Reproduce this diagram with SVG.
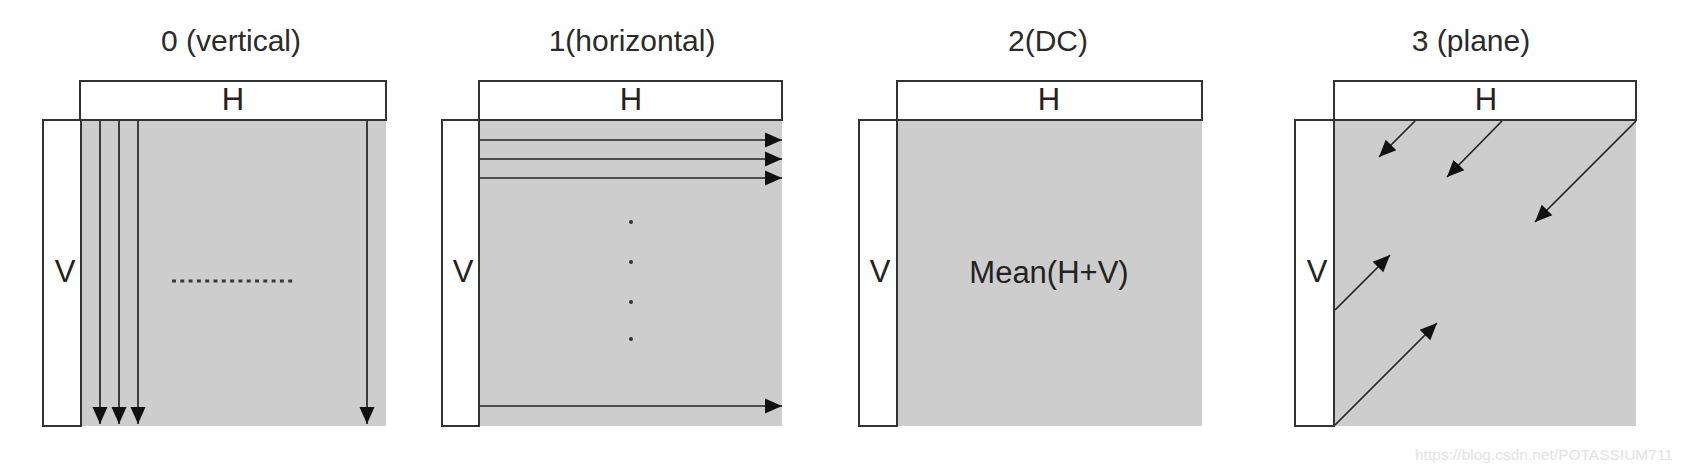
<svg xmlns="http://www.w3.org/2000/svg" width="1682" height="474" viewBox="0 0 1682 474">
<defs>
<style>
.title{font-family:"Liberation Sans",Arial,sans-serif;font-size:30px;fill:#2a2a2a;text-anchor:middle}
.lbl{font-family:"Liberation Sans",Arial,sans-serif;font-size:31px;fill:#222;text-anchor:middle}
.box{fill:#fff;stroke:#333;stroke-width:2}
.area{fill:#cdcdcd}
.arr{stroke:#222;stroke-width:1.7;fill:none;marker-end:url(#ah)}
.dot{fill:#333}
.wm{font-family:"Liberation Sans",Arial,sans-serif;font-size:15.5px;fill:#e2e2e2;text-anchor:end}
</style>
<marker id="ah" markerUnits="userSpaceOnUse" markerWidth="18" markerHeight="16" refX="17" refY="8" orient="auto" viewBox="0 0 18 16">
<path d="M0,0.5 L17,8 L0,15.5 z" fill="#111"/>
</marker>
</defs>
<rect width="1682" height="474" fill="#fff"/>

<g id="panel0">
<text class="title" x="231" y="51">0 (vertical)</text>
<rect class="area" x="81" y="120" width="305" height="306"/>
<rect class="box" x="80" y="81" width="306" height="39"/>
<rect class="box" x="43" y="120" width="38" height="306"/>
<text class="lbl" x="233" y="110">H</text>
<text class="lbl" x="65" y="282">V</text>
<line x1="172" y1="281" x2="296" y2="281" stroke="#3a3a3a" stroke-width="3" stroke-dasharray="4,4.3"/>
</g>

<g id="panel1">
<text class="title" x="632" y="51">1(horizontal)</text>
<rect class="area" x="479" y="120" width="303" height="306"/>
<rect class="box" x="479" y="81" width="303" height="39"/>
<rect class="box" x="442" y="120" width="37" height="306"/>
<text class="lbl" x="631" y="110">H</text>
<text class="lbl" x="463" y="282">V</text>
<circle class="dot" cx="631" cy="222" r="2"/>
<circle class="dot" cx="631" cy="262" r="2"/>
<circle class="dot" cx="631" cy="302" r="2"/>
<circle class="dot" cx="631" cy="339" r="2"/>
</g>

<g id="panel2">
<text class="title" x="1048" y="51">2(DC)</text>
<rect class="area" x="897" y="120" width="305" height="306"/>
<rect class="box" x="897" y="81" width="305" height="39"/>
<rect class="box" x="859" y="120" width="38" height="306"/>
<text class="lbl" x="1049" y="110">H</text>
<text class="lbl" x="880" y="282">V</text>
<text class="lbl" x="1049" y="283">Mean(H+V)</text>
</g>

<g id="panel3">
<text class="title" x="1471" y="51">3 (plane)</text>
<rect class="area" x="1334" y="120" width="302" height="306"/>
<rect class="box" x="1334" y="81" width="302" height="39"/>
<rect class="box" x="1295" y="120" width="39" height="306"/>
<text class="lbl" x="1486" y="110">H</text>
<text class="lbl" x="1317" y="282">V</text>
</g>

<g id="connectors">
<line class="arr" x1="100" y1="121" x2="100" y2="424"/>
<line class="arr" x1="119" y1="121" x2="119" y2="424"/>
<line class="arr" x1="138" y1="121" x2="138" y2="424"/>
<line class="arr" x1="367" y1="121" x2="367" y2="424"/>
<line class="arr" x1="480" y1="140" x2="782" y2="140"/>
<line class="arr" x1="480" y1="159" x2="782" y2="159"/>
<line class="arr" x1="480" y1="178" x2="782" y2="178"/>
<line class="arr" x1="480" y1="406" x2="782" y2="406"/>
<line class="arr" x1="1415" y1="121" x2="1379" y2="157"/>
<line class="arr" x1="1502" y1="121" x2="1447" y2="177"/>
<line class="arr" x1="1636" y1="121" x2="1535" y2="222"/>
<line class="arr" x1="1335" y1="310" x2="1390" y2="255"/>
<line class="arr" x1="1335" y1="425" x2="1437" y2="323"/>
</g>

<text class="wm" x="1673" y="460">https://blog.csdn.net/POTASSIUM711</text>
</svg>
